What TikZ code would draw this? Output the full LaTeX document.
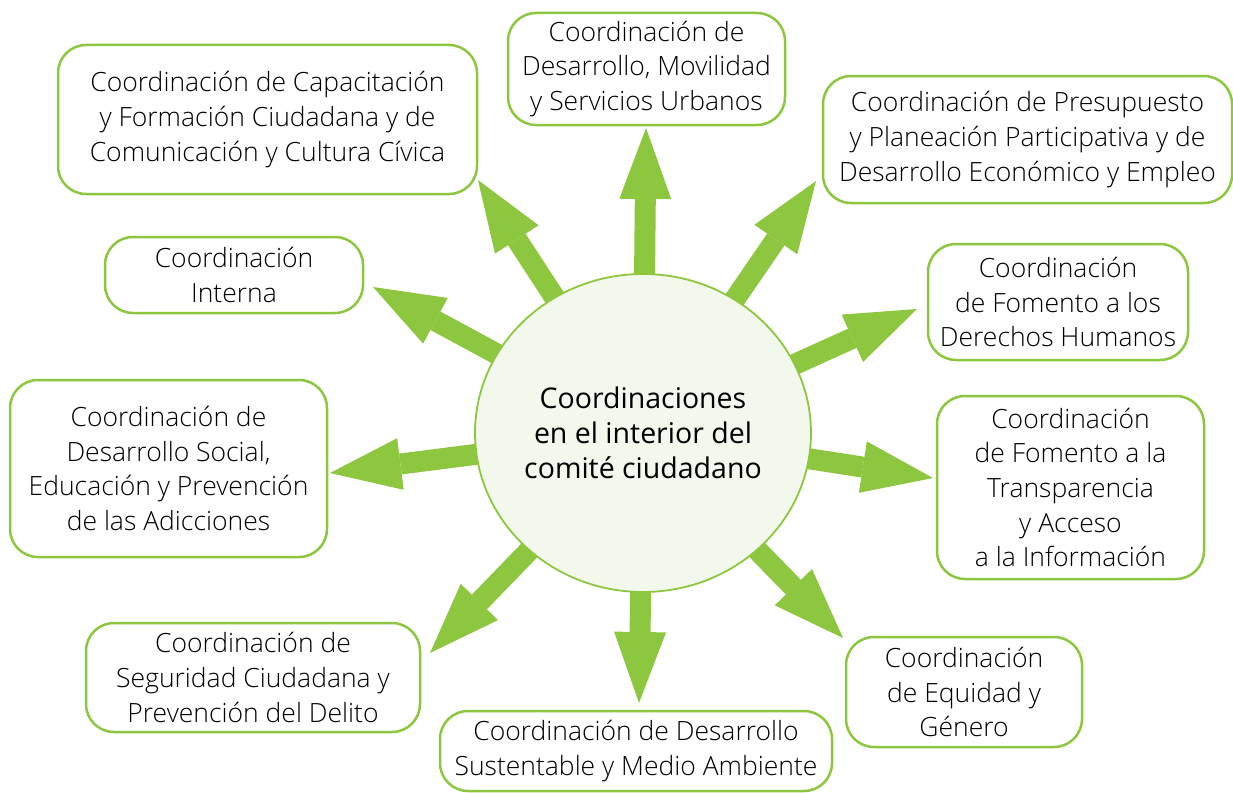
\documentclass[tikz,border=0pt]{standalone}
\usepackage{fontspec}
\setmainfont{Open Sans}
\newfontfamily\lightfont{Open Sans Light}
\usetikzlibrary{arrows.meta,backgrounds,shapes.geometric}
\definecolor{lgreen}{RGB}{141,198,63}
\definecolor{cfill}{RGB}{243,248,236}
\begin{document}
\begin{tikzpicture}[x=1pt,y=-1pt,
  box/.style={draw=lgreen,line width=2.5pt,rounded corners=28pt,fill=white,
    align=center,inner sep=0pt,font=\lightfont\fontsize{26.5}{34.6}\selectfont,text=black},
  hub/.style={ellipse,draw=lgreen,line width=1.8pt,fill=cfill,inner sep=0pt,
    minimum width=332pt,minimum height=318pt,align=center,
    font=\fontsize{28.5}{35}\selectfont},
  bigarrow/.style={draw=lgreen,line width=21pt,
    -{Triangle[length=71pt,width=52pt,line width=0pt,fill=lgreen]}}]
\useasboundingbox (0,0) rectangle (1233,792);
\node[box,minimum width=419pt,minimum height=149pt] (tl) at (267.5,119.5)
  {Coordinación de Capacitación\\y Formación Ciudadana y de\\Comunicación y Cultura Cívica};
\node[box,minimum width=277pt,minimum height=112pt] (top) at (646.5,69)
  {Coordinación de\\Desarrollo, Movilidad\\y Servicios Urbanos};
\node[box,minimum width=409pt,minimum height=127pt] (tr) at (1027.5,139.5)
  {Coordinación de Presupuesto\\y Planeación Participativa y de\\Desarrollo Económico y Empleo};
\node[box,minimum width=258pt,minimum height=76pt] (int) at (234,275)
  {Coordinación\\Interna};
\node[box,minimum width=260pt,minimum height=116pt] (dh) at (1058,302)
  {Coordinación\\de Fomento a los\\Derechos Humanos};
\node[box,minimum width=317pt,minimum height=177pt] (soc) at (168.5,468.5)
  {Coordinación de\\Desarrollo Social,\\Educación y Prevención\\de las Adicciones};
\node[box,minimum width=267pt,minimum height=183pt] (tra) at (1070.5,487.5)
  {Coordinación\\de Fomento a la\\Transparencia\\y Acceso\\a la Información};
\node[box,minimum width=334pt,minimum height=109pt] (seg) at (253,677.5)
  {Coordinación de\\Seguridad Ciudadana y\\Prevención del Delito};
\node[box,minimum width=392pt,minimum height=80pt] (sus) at (636,751)
  {Coordinación de Desarrollo\\Sustentable y Medio Ambiente};
\node[box,minimum width=236pt,minimum height=110pt] (eq) at (964,692)
  {Coordinación\\de Equidad y\\Género};
\node[hub] (hub) at (643,433)
  {Coordinaciones\\en el interior del\\comité ciudadano};
\coordinate (t1) at (646,128);
\coordinate (t2) at (478,180);
\coordinate (t3) at (816,181);
\coordinate (t4) at (373,287);
\coordinate (t5) at (917,309);
\coordinate (t6) at (330,473);
\coordinate (t7) at (933,478);
\coordinate (t8) at (430,653);
\coordinate (t9) at (639,703);
\coordinate (t10) at (843,638);
\begin{pgfonlayer}{background}
\foreach \t in {t1,t2,t3,t4,t5,t6,t7,t8,t9,t10}
  \draw[bigarrow] (hub.center) -- (\t);
\end{pgfonlayer}
\end{tikzpicture}
\end{document}
